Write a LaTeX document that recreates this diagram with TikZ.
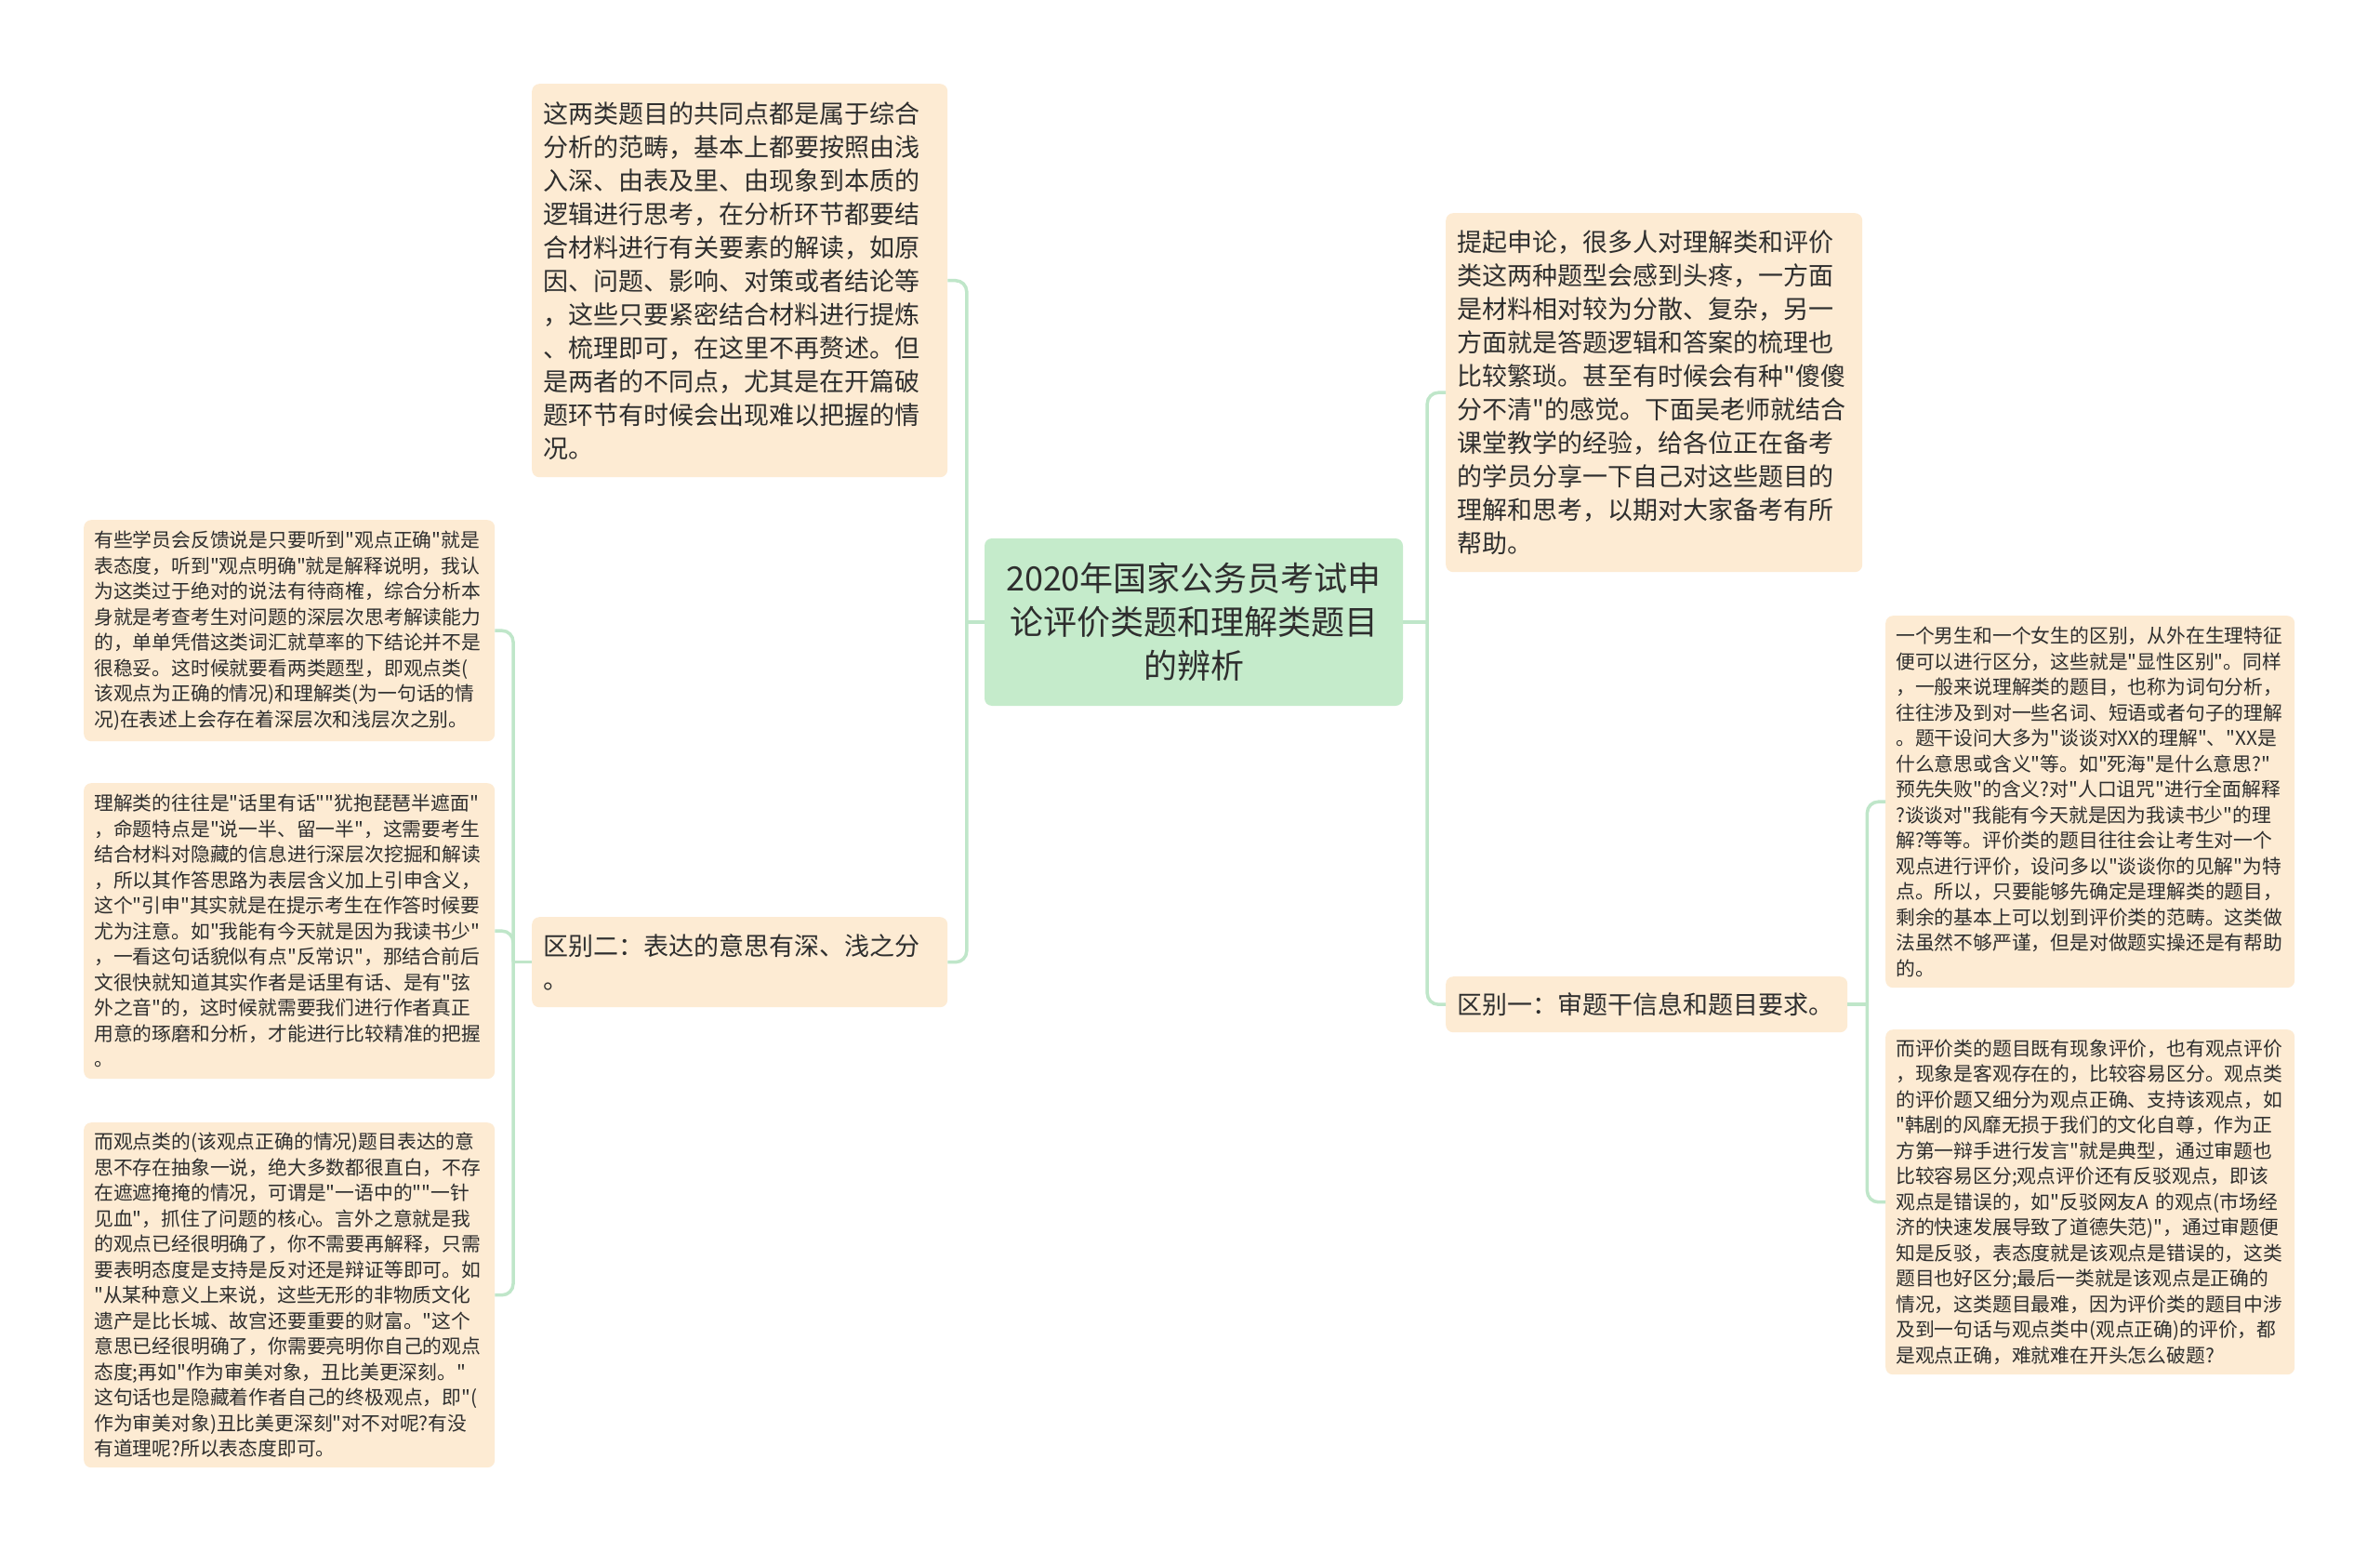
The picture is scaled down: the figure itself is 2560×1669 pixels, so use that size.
\documentclass[tikz,border=0pt]{standalone}
\usepackage{fontspec}
\newfontfamily\cnfont{Noto Sans CJK SC}
\usepackage{tikz}
\usetikzlibrary{positioning}

\definecolor{linkgreen}{HTML}{BFE6C9}
\definecolor{rootgreen}{HTML}{C5EBCB}
\definecolor{leafpeach}{HTML}{FDEBD3}
\definecolor{inkgrey}{HTML}{2E2E2E}

\tikzstyle{root} = [fill=rootgreen, rounded corners=8pt, text=inkgrey, align=center, inner sep=12pt, font=\cnfont\fontsize{36}{47}\selectfont]
\tikzstyle{branch} = [fill=leafpeach, rounded corners=8pt, text=inkgrey, align=left, anchor=north west, inner xsep=12pt, inner ysep=0pt, font=\cnfont\fontsize{27}{36}\selectfont]
\tikzstyle{leaf} = [branch, inner xsep=11pt, font=\cnfont\fontsize{20.8}{27.5}\selectfont]
\tikzstyle{link} = [draw=linkgreen, line width=3.5pt, rounded corners=12pt]

\begin{document}
\begin{tikzpicture}[x=1pt, y=-1pt]

   % Canvas
   \fill[white] (0,0) rectangle (2560,1669);
   \useasboundingbox (0,0) rectangle (2560,1669);

   % Central topic
   \node[root, minimum width=450pt, minimum height=180pt, text width=426pt] (title) at (1284,669) {2020年国家公务员考试申\\
论评价类题和理解类题目\\
的辨析};

   % Left branches
   \node[branch, text width=423pt, minimum height=423pt] (common) at (572,90) {这两类题目的共同点都是属于综合\\
分析的范畴，基本上都要按照由浅\\
入深、由表及里、由现象到本质的\\
逻辑进行思考，在分析环节都要结\\
合材料进行有关要素的解读，如原\\
因、问题、影响、对策或者结论等\\
，这些只要紧密结合材料进行提炼\\
、梳理即可，在这里不再赘述。但\\
是两者的不同点，尤其是在开篇破\\
题环节有时候会出现难以把握的情\\
况。};
   \node[branch, text width=423pt, minimum height=97pt] (diff2) at (572,986) {区别二：表达的意思有深、浅之分\\
。};

   % Leaves of diff2
   \node[leaf, text width=420pt, minimum height=238pt] (feedback) at (90,559) {有些学员会反馈说是只要听到"观点正确"就是\\
表态度，听到"观点明确"就是解释说明，我认\\
为这类过于绝对的说法有待商榷，综合分析本\\
身就是考查考生对问题的深层次思考解读能力\\
的，单单凭借这类词汇就草率的下结论并不是\\
很稳妥。这时候就要看两类题型，即观点类(\\
该观点为正确的情况)和理解类(为一句话的情\\
况)在表述上会存在着深层次和浅层次之别。};
   \node[leaf, text width=420pt, minimum height=318pt] (understand) at (90,842) {理解类的往往是"话里有话""犹抱琵琶半遮面"\\
，命题特点是"说一半、留一半"，这需要考生\\
结合材料对隐藏的信息进行深层次挖掘和解读\\
，所以其作答思路为表层含义加上引申含义，\\
这个"引申"其实就是在提示考生在作答时候要\\
尤为注意。如"我能有今天就是因为我读书少"\\
，一看这句话貌似有点"反常识"，那结合前后\\
文很快就知道其实作者是话里有话、是有"弦\\
外之音"的，这时候就需要我们进行作者真正\\
用意的琢磨和分析，才能进行比较精准的把握\\
。};
   \node[leaf, text width=420pt, minimum height=371pt] (viewpoint) at (90,1207) {而观点类的(该观点正确的情况)题目表达的意\\
思不存在抽象一说，绝大多数都很直白，不存\\
在遮遮掩掩的情况，可谓是"一语中的""一针\\
见血"，抓住了问题的核心。言外之意就是我\\
的观点已经很明确了，你不需要再解释，只需\\
要表明态度是支持是反对还是辩证等即可。如\\
"从某种意义上来说，这些无形的非物质文化\\
遗产是比长城、故宫还要重要的财富。"这个\\
意思已经很明确了，你需要亮明你自己的观点\\
态度;再如"作为审美对象，丑比美更深刻。"\\
这句话也是隐藏着作者自己的终极观点，即"(\\
作为审美对象)丑比美更深刻"对不对呢?有没\\
有道理呢?所以表态度即可。};

   % Right branches
   \node[branch, text width=424pt, minimum height=386pt] (intro) at (1555,229) {提起申论，很多人对理解类和评价\\
类这两种题型会感到头疼，一方面\\
是材料相对较为分散、复杂，另一\\
方面就是答题逻辑和答案的梳理也\\
比较繁琐。甚至有时候会有种"傻傻\\
分不清"的感觉。下面吴老师就结合\\
课堂教学的经验，给各位正在备考\\
的学员分享一下自己对这些题目的\\
理解和思考，以期对大家备考有所\\
帮助。};
   \node[branch, text width=408pt, minimum height=60pt] (diff1) at (1555,1050) {区别一：审题干信息和题目要求。};

   % Leaves of diff1
   \node[leaf, text width=418pt, minimum height=400pt] (gender) at (2028,662) {一个男生和一个女生的区别，从外在生理特征\\
便可以进行区分，这些就是"显性区别"。同样\\
，一般来说理解类的题目，也称为词句分析，\\
往往涉及到对一些名词、短语或者句子的理解\\
。题干设问大多为"谈谈对XX的理解"、"XX是\\
什么意思或含义"等。如"死海"是什么意思?"\\
预先失败"的含义?对"人口诅咒"进行全面解释\\
?谈谈对"我能有今天就是因为我读书少"的理\\
解?等等。评价类的题目往往会让考生对一个\\
观点进行评价，设问多以"谈谈你的见解"为特\\
点。所以，只要能够先确定是理解类的题目，\\
剩余的基本上可以划到评价类的范畴。这类做\\
法虽然不够严谨，但是对做题实操还是有帮助\\
的。};
   \node[leaf, text width=418pt, minimum height=371pt] (evaluate) at (2028,1107) {而评价类的题目既有现象评价，也有观点评价\\
，现象是客观存在的，比较容易区分。观点类\\
的评价题又细分为观点正确、支持该观点，如\\
"韩剧的风靡无损于我们的文化自尊，作为正\\
方第一辩手进行发言"就是典型，通过审题也\\
比较容易区分;观点评价还有反驳观点，即该\\
观点是错误的，如"反驳网友A~的观点(市场经\\
济的快速发展导致了道德失范)"，通过审题便\\
知是反驳，表态度就是该观点是错误的，这类\\
题目也好区分;最后一类就是该观点是正确的\\
情况，这类题目最难，因为评价类的题目中涉\\
及到一句话与观点类中(观点正确)的评价，都\\
是观点正确，难就难在开头怎么破题?};

   % Bus points
   \coordinate (busL) at ([xshift=-19pt]title.west);
   \coordinate (busR) at ([xshift=26pt]title.east);
   \coordinate (busM) at ([xshift=-20pt]diff2.west);
   \coordinate (busRR) at ([xshift=21pt]diff1.east);

   % Connectors
   \draw[link] (title.west) -- (busL);
   \draw[link] (busL) |- (common.east);
   \draw[link] (busL) |- (diff2.east);
   \draw[link] (diff2.west) -- (busM);
   \draw[link] (busM) |- (feedback.east);
   \draw[link] (busM) |- (understand.east);
   \draw[link] (busM) |- (viewpoint.east);
   \draw[link] (title.east) -- (busR);
   \draw[link] (busR) |- (intro.west);
   \draw[link] (busR) |- (diff1.west);
   \draw[link] (diff1.east) -- (busRR);
   \draw[link] (busRR) |- (gender.west);
   \draw[link] (busRR) |- (evaluate.west);

\end{tikzpicture}
\end{document}
